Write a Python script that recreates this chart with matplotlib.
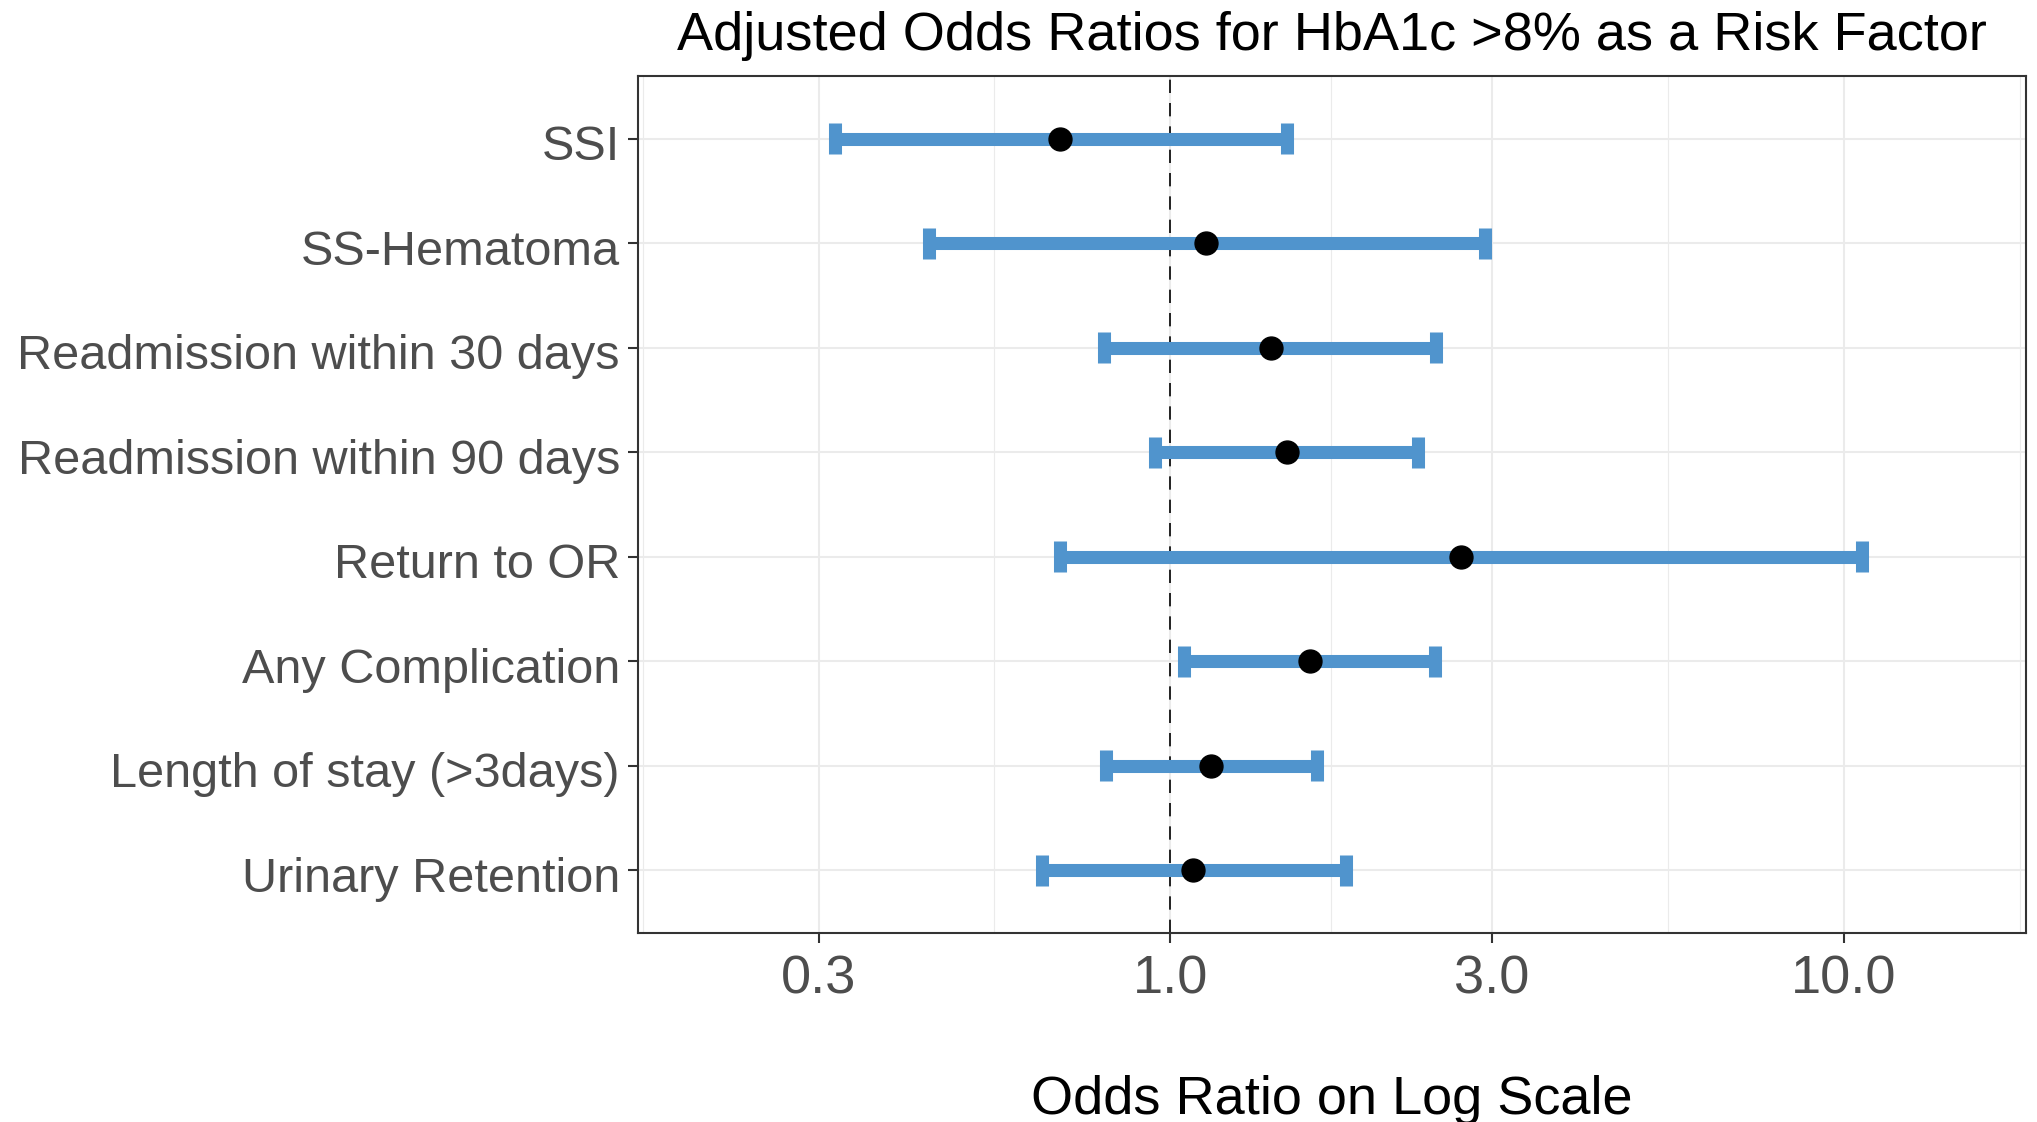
import matplotlib
matplotlib.use("Agg")
import matplotlib.pyplot as plt
from matplotlib.transforms import ScaledTranslation
import numpy as np

# outcomes, top to bottom as shown
outcomes = ["SSI", "SS-Hematoma", "Readmission within 30 days",
            "Readmission within 90 days", "Return to OR", "Any Complication",
            "Length of stay (>3days)", "Urinary Retention"]
odds_ratio = [0.685, 1.13, 1.41, 1.49, 2.70, 1.61, 1.15, 1.08]
ci_low = [0.317, 0.438, 0.796, 0.947, 0.685, 1.047, 0.803, 0.644]
ci_high = [1.49, 2.93, 2.48, 2.33, 10.66, 2.47, 1.65, 1.82]

x_breaks = [0.3, 1.0, 3.0, 10.0]
x_labels = ["0.3", "1.0", "3.0", "10.0"]

plt.rcParams["font.family"] = ["Liberation Sans", "DejaVu Sans"]

fig = plt.figure(figsize=(20.37, 11.22), dpi=100)
ax = fig.add_axes([638 / 2037, 1 - 933 / 1122, (2026 - 638) / 2037, (933 - 76) / 1122])

ypos = np.arange(len(outcomes))
bar_col = "#5094CD"
lw = 9.4

# error bars: horizontal line + caps
ax.hlines(ypos, ci_low, ci_high, color=bar_col, linewidth=lw, capstyle="butt", zorder=3)
ax.vlines(ci_low, ypos - 0.148, ypos + 0.148, color=bar_col, linewidth=lw, capstyle="butt", zorder=3)
ax.vlines(ci_high, ypos - 0.148, ypos + 0.148, color=bar_col, linewidth=lw, capstyle="butt", zorder=3)
ax.plot(odds_ratio, ypos, "o", color="black", markersize=16.5, zorder=4)

# reference line at OR = 1
ax.axvline(1.0, color="black", linewidth=1.2, linestyle=(0, (8, 6)), zorder=2)

ax.set_xscale("log")
ax.set_xlim(0.1618, 18.66)
ax.set_ylim(len(outcomes) - 0.4, -0.6)

ax.set_xticks(x_breaks)
ax.set_xticklabels(x_labels)
lb = np.log10(x_breaks)
minor = 10 ** np.concatenate([[lb[0] - (lb[1] - lb[0]) / 2], (lb[:-1] + lb[1:]) / 2,
                              [lb[-1] + (lb[-1] - lb[-2]) / 2]])
ax.set_xticks(minor, minor=True)
ax.tick_params(axis="x", which="minor", length=0)
ax.set_yticks(ypos)
ax.set_yticklabels(outcomes)

ax.grid(True, which="major", color="#EBEBEB", linewidth=1.5, zorder=0)
ax.grid(True, which="minor", axis="x", color="#EBEBEB", linewidth=0.8, zorder=0)
ax.set_axisbelow(True)

for s in ax.spines.values():
    s.set_color("#333333")
    s.set_linewidth(1.5)

ax.tick_params(axis="x", which="major", length=7, width=1.5, color="#333333",
               labelsize=39, labelcolor="#4D4D4D", pad=8.5)
ax.tick_params(axis="y", length=7, width=1.5, color="#333333",
               labelsize=35, labelcolor="#4D4D4D", pad=6)

# nudge y labels down a little, like the original
shift = ScaledTranslation(0, -4 / 100, fig.dpi_scale_trans)
for lab in ax.get_yticklabels():
    lab.set_transform(lab.get_transform() + shift)

cx = (638 + 2026) / 2 / 2037
fig.text(cx, 1 - 36 / 1122, "Adjusted Odds Ratios for HbA1c >8% as a Risk Factor",
         ha="center", va="center", fontsize=39, color="black")
fig.text(cx, 1 - 1100 / 1122, "Odds Ratio on Log Scale",
         ha="center", va="center", fontsize=39, color="black")

plt.savefig("out.png", dpi=100)
plt.close()
